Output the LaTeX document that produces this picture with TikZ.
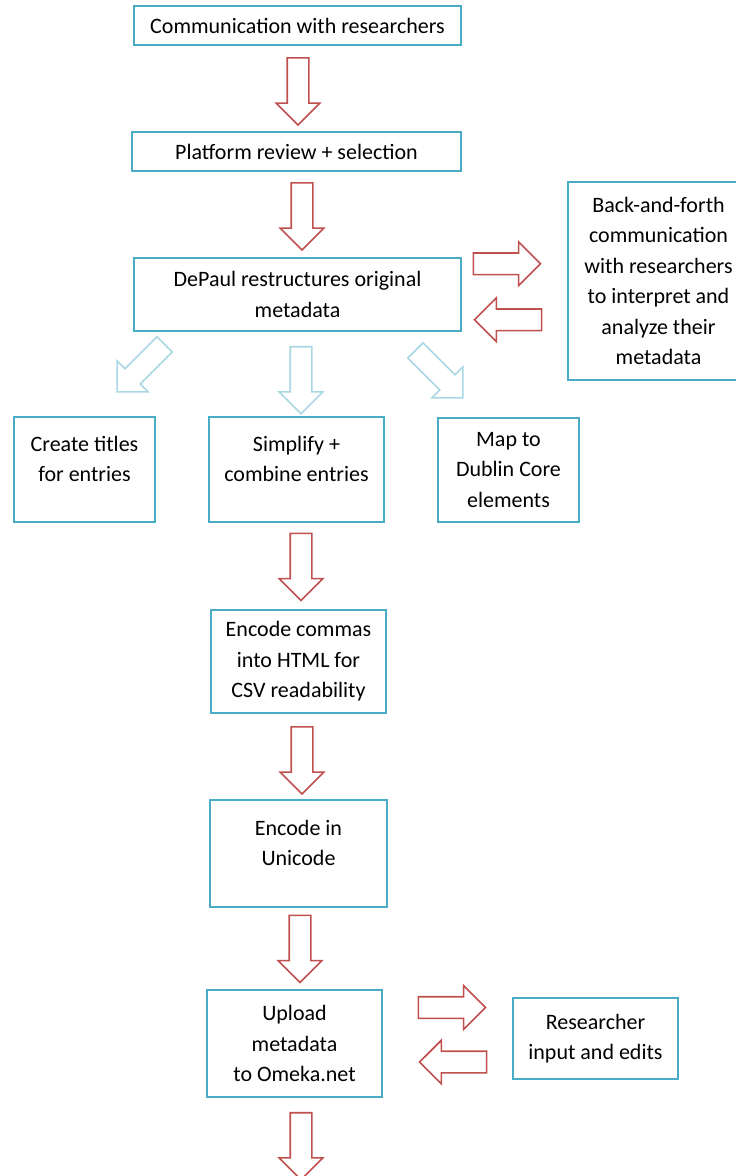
\documentclass[tikz,border=0pt]{standalone}
\usepackage{fontspec}
\setmainfont{Carlito}
\usepackage{tikz}
\usetikzlibrary{shapes.arrows,calc}
\definecolor{boxblue}{HTML}{4BACC6}
\definecolor{arrred}{HTML}{C0504D}
\definecolor{arrblue}{HTML}{A9D7E3}

\begin{document}
\begin{tikzpicture}[x=1pt,y=-1pt,
  box/.style={draw=boxblue,line width=1.6pt,align=center,inner sep=0pt,
    font=\fontsize{22}{30.5}\selectfont},
  uptext/.style={text depth=21pt},
  blk/.style={single arrow,draw=#1,line width=1.6pt,inner sep=10pt,
    single arrow head extend=11pt,minimum height=67pt}]
\path[use as bounding box,clip] (0,0) rectangle (736,1176);
% boxes
\node[box,minimum width=327pt,minimum height=39pt] (com) at (297.5,25.5) {Communication with researchers};
\node[box,minimum width=329pt,minimum height=39pt] (plat) at (296.5,151.5) {Platform review + selection};
\node[box,minimum width=327pt,minimum height=73pt] (depaul) at (297.5,294.5) {DePaul restructures original\\metadata};
\node[box,minimum width=181pt,minimum height=198pt] (back) at (658.5,281) {Back-and-forth\\communication\\with researchers\\to interpret and\\analyze their\\metadata};
\node[box,uptext,minimum width=141pt,minimum height=105pt] (titles) at (84.5,469.5) {Create titles\\for entries};
\node[box,uptext,minimum width=175pt,minimum height=105pt] (simplify) at (296.5,469.5) {Simplify +\\combine entries};
\node[box,minimum width=141pt,minimum height=104pt] (dublin) at (508.5,470) {Map to\\Dublin Core\\elements};
\node[box,minimum width=175pt,minimum height=103pt] (commas) at (298.5,661.5) {Encode commas\\into HTML for\\CSV readability};
\node[box,uptext,minimum width=177pt,minimum height=107pt] (unicode) at (298.5,853.5) {Encode in\\Unicode};
\node[box,minimum width=175pt,minimum height=107pt] (upload) at (294.5,1043.5) {Upload\\metadata\\to Omeka.net};
\node[box,minimum width=165pt,minimum height=81pt] (input) at (595.5,1038.5) {Researcher\\input and edits};
% block arrows
\node[blk=arrred,rotate=-90] (a1) at ($(com.south)!0.5!(plat.north)+(1,-2.5)$) {};
\node[blk=arrred,rotate=-90] (a2) at ($(plat.south)!0.5!(depaul.north)+(5,-3.5)$) {};
\node[blk=arrred] (r1) at ($(depaul.east)!0.5!(back.west)+(-13,-24)$) {};
\node[blk=arrred,rotate=180] (l1) at ($(depaul.east)!0.5!(back.west)+(-1,32)$) {};
\node[blk=arrblue,rotate=-135] (b1) at ($(depaul.south west)+(11.5,32.5)$) {};
\node[blk=arrblue,rotate=-90] (b2) at ($(depaul.south)+(3.5,43)$) {};
\node[blk=arrblue,rotate=-45] (b3) at ($(depaul.south east)+(-26.5,38.5)$) {};
\node[blk=arrred,rotate=-90] (a3) at ($(simplify.south)!0.5!(commas.north)+(3.5,-4.5)$) {};
\node[blk=arrred,rotate=-90] (a4) at ($(commas.south)!0.5!(unicode.north)+(3.5,-1.5)$) {};
\node[blk=arrred,rotate=-90] (a5) at ($(unicode.south)!0.5!(upload.north)+(3.5,-5)$) {};
\node[blk=arrred] (r2) at ($(upload.east)!0.5!(input.west)+(-1,-33.5)$) {};
\node[blk=arrred,rotate=180] (l2) at ($(upload.east)!0.5!(input.west)+(11,21)$) {};
\node[blk=arrred,rotate=-90] (a6) at ($(upload.south)+(6.5,43)$) {};
\end{tikzpicture}
\end{document}
